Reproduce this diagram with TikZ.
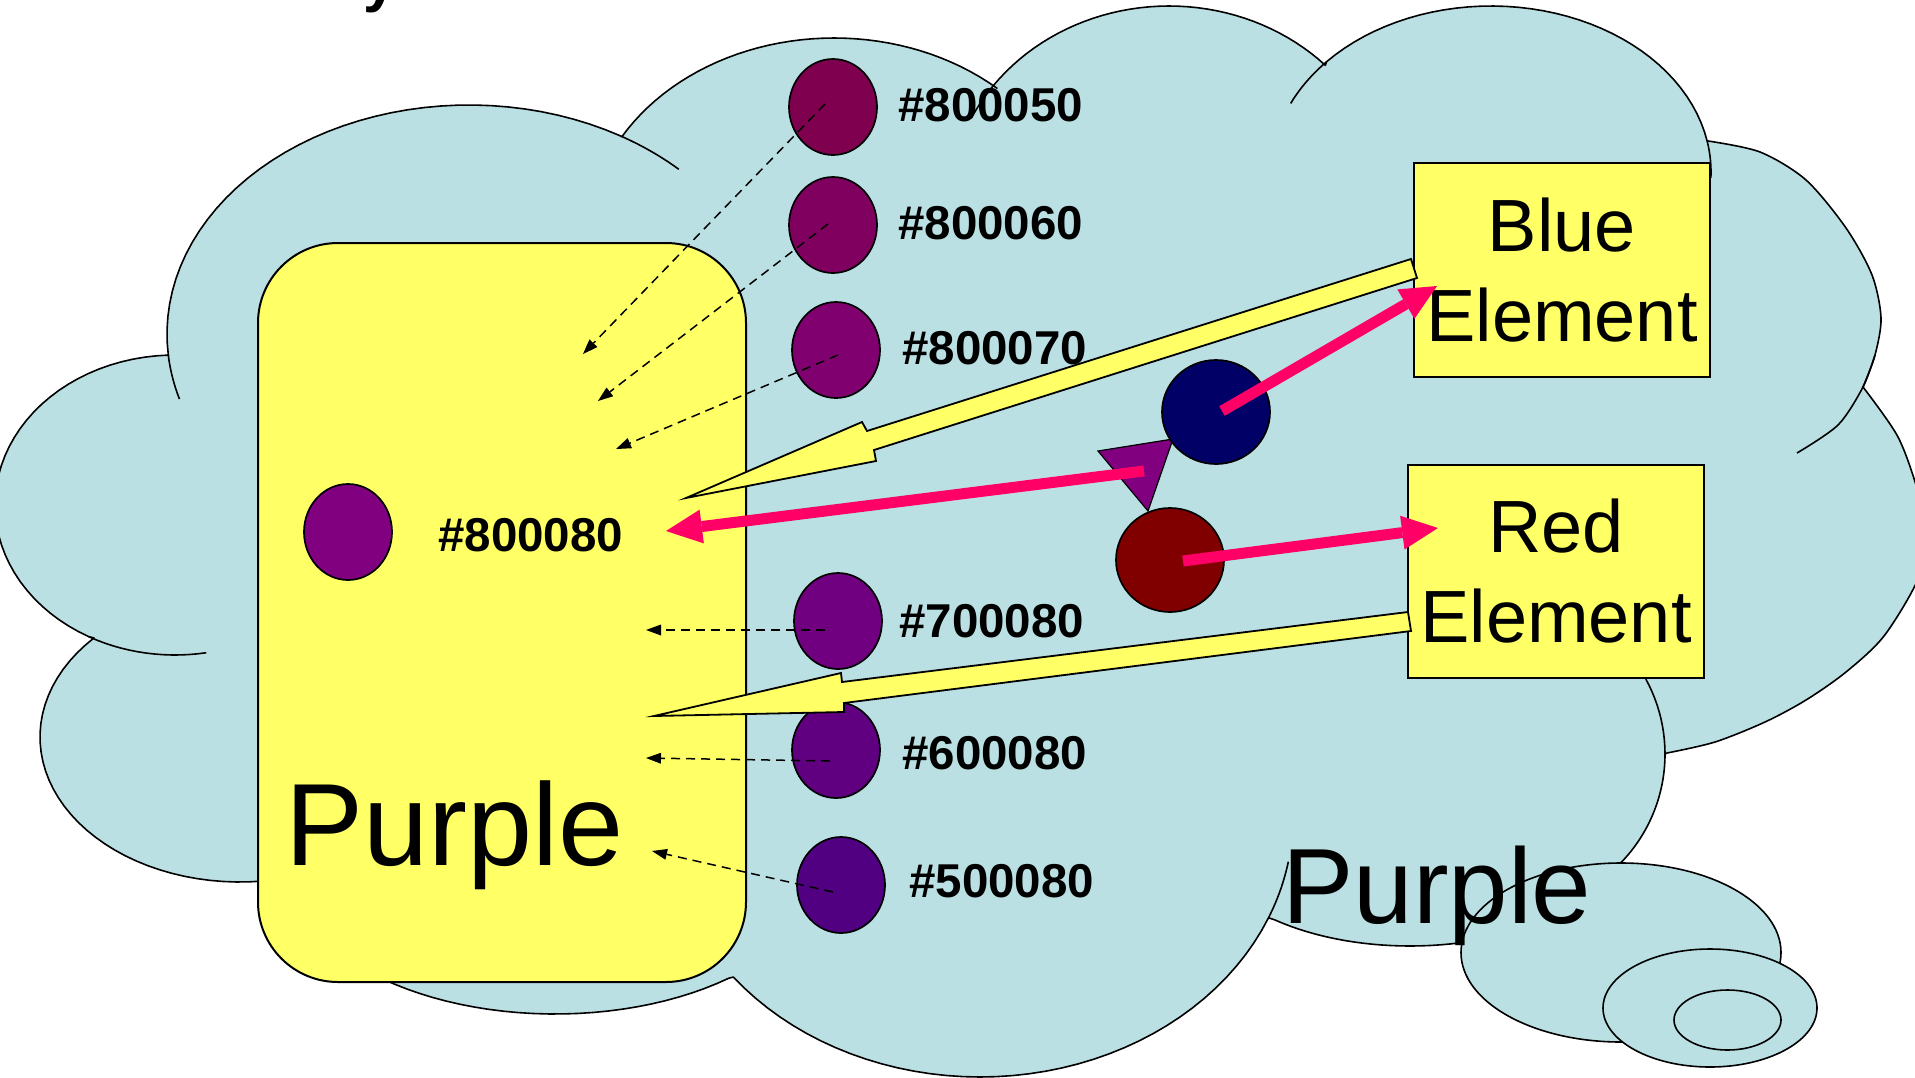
\documentclass[tikz,border=0pt]{standalone}
\usepackage{fontspec}
\setmainfont{Liberation Sans}
\usetikzlibrary{arrows.meta,shapes.geometric}
\definecolor{cloudblue}{RGB}{187,224,227}
\definecolor{noteyellow}{RGB}{255,255,102}
\definecolor{hotpink}{RGB}{255,0,102}
\definecolor{navydot}{RGB}{0,0,102}
\definecolor{maroondot}{RGB}{128,0,0}
\definecolor{colAAA}{HTML}{800050}
\definecolor{colBBB}{HTML}{800060}
\definecolor{colCCC}{HTML}{800070}
\definecolor{colMMM}{HTML}{800080}
\definecolor{colDDD}{HTML}{700080}
\definecolor{colEEE}{HTML}{600080}
\definecolor{colFFF}{HTML}{500080}
\begin{document}
\begin{tikzpicture}[x=1pt,y=-1pt,
  cloudline/.style={draw=black,line width=1.6pt,line join=round},
  bubble/.style={ellipse,draw=black,line width=1.6pt,fill=cloudblue,inner sep=0pt},
  hexdot/.style={ellipse,draw=black,line width=1.7pt,inner sep=0pt,minimum width=88pt,minimum height=96pt},
  hexlabel/.style={anchor=base west,inner sep=0pt,font=\fontsize{47.5}{57}\selectfont\bfseries},
  elembox/.style={draw=black,line width=2.4pt,fill=noteyellow,inner sep=0pt,align=center,font=\fontsize{74}{90}\selectfont,minimum width=296pt},
  yarrow/.style={draw=black,line width=1.8pt,fill=noteyellow,line join=miter},
  pinkarrow/.style={draw=hotpink,line width=11pt,-{Triangle[length=36pt,width=34pt,line width=0pt]}},
  dasharrow/.style={draw=black,line width=1.5pt,dash pattern=on 9pt off 6pt,-{Triangle[length=15pt,width=11pt,line width=0pt]}},
  bigword/.style={anchor=base west,inner sep=0pt}]
\useasboundingbox (0,0) rectangle (1915,1077);
\fill[white] (0,0) rectangle (1915,1077);
\clip (0,0) rectangle (1915,1077);

% cut-off title fragment
\node[anchor=base west,inner sep=0pt,font=\fontsize{60}{72}\selectfont\bfseries] (titlefrag) at (363,0) {y};

% cloud
\filldraw[cloudline,fill=cloudblue,samples=40]
  plot[domain=174.7:300] ({469+302*cos(\x)},{334+229*sin(\x)})
  -- plot[domain=210.4:311.5] ({834+246*cos(\x)},{238+200*sin(\x)})
  -- plot[domain=217:315.3] ({1169+220*cos(\x)},{206+200*sin(\x)})
  -- plot[domain=221.6:349.3] ({1491+220*cos(\x)},{172+166*sin(\x)})
  -- plot[smooth] coordinates {(1708,141) (1760,152) (1806,180) (1846,228) (1872,275) (1881,318) (1875,355) (1863,387)}
  -- plot[smooth] coordinates {(1863,387) (1898,437) (1918,492) (1925,535) (1918,579) (1884,636) (1846,672) (1806,700) (1765,722) (1715,742) (1667,753)}
  -- plot[domain=0:55] ({1509+156*cos(\x)},{754+156*sin(\x)})
  -- plot[domain=24.9:130.2] ({1410+209*cos(\x)},{836+110*sin(\x)})
  -- plot[domain=22.8:142] ({980+313*cos(\x)},{817+260*sin(\x)})
  -- plot[domain=49.6:175] ({555+268*cos(\x)},{864+150*sin(\x)})
  -- plot[domain=76:223.1] ({240+200*cos(\x)},{737+145*sin(\x)})
  -- plot[domain=118.6:268] ({175+180*cos(\x)},{505+150*sin(\x)})
  -- cycle;
% inner arcs of the cloud
\draw[cloudline,samples=12] plot[domain=163.5:174.7] ({469+302*cos(\x)},{334+229*sin(\x)});
\draw[cloudline,samples=12] plot[domain=300:314] ({469+302*cos(\x)},{334+229*sin(\x)});
\draw[cloudline,samples=15] plot[domain=80:118.6] ({175+180*cos(\x)},{505+150*sin(\x)});
\draw[cloudline,samples=12] plot[domain=206:217] ({1169+220*cos(\x)},{206+200*sin(\x)});
\draw[cloudline,samples=12] plot[domain=204.4:221.6] ({1491+220*cos(\x)},{172+166*sin(\x)});
\draw[cloudline,samples=12] plot[domain=349.3:362] ({1491+220*cos(\x)},{172+166*sin(\x)});
\draw[cloudline] plot[smooth] coordinates {(1875,355) (1863,387) (1838,425) (1797,453)};
\draw[cloudline,samples=12] plot[domain=-28.7:0] ({1509+156*cos(\x)},{754+156*sin(\x)});
\draw[cloudline,samples=12] plot[domain=9.9:22.8] ({980+313*cos(\x)},{817+260*sin(\x)});

% thought bubbles
\node[bubble,minimum width=320pt,minimum height=179pt] (bubA) at (1621,952.5) {};
\node[bubble,minimum width=214pt,minimum height=118pt] (bubB) at (1710,1008) {};
\node[bubble,minimum width=107pt,minimum height=60pt] (bubC) at (1727.5,1020) {};

% purple card
\node[draw=black,line width=2pt,fill=noteyellow,rounded corners=80pt,minimum width=488pt,minimum height=739pt,inner sep=0pt] (card) at (502,612.5) {};
\node[hexdot,fill=colMMM] (dotM) at (348,532) {};
\node[hexlabel] (labM) at (438,551) {\#800080};
\node[bigword,font=\fontsize{117}{140}\selectfont] (wordA) at (285,865) {Purple};
\node[bigword,font=\fontsize{107}{128}\selectfont] (wordB) at (1282,923) {Purple};

% colour column
\node[hexdot,fill=colAAA] (dotA) at (833,107) {};
\node[hexlabel] (labA) at (898,121) {\#800050};
\node[hexdot,fill=colBBB] (dotB) at (833,225) {};
\node[hexlabel] (labB) at (898,239) {\#800060};
\node[hexdot,fill=colCCC] (dotC) at (836,350) {};
\node[hexlabel] (labC) at (902,364) {\#800070};
\node[hexdot,fill=colDDD] (dotD) at (838,621) {};
\node[hexlabel] (labD) at (899,637) {\#700080};
\node[hexdot,fill=colEEE] (dotE) at (836,750) {};
\node[hexlabel] (labE) at (902,769) {\#600080};
\node[hexdot,fill=colFFF] (dotF) at (841,885) {};
\node[hexlabel] (labF) at (909,897) {\#500080};

% dashed arrows
\coordinate (dAs) at (825,104);  \coordinate (dAe) at (583,354);
\coordinate (dBs) at (828,224);  \coordinate (dBe) at (598,401);
\coordinate (dCs) at (838,355);  \coordinate (dCe) at (616,449);
\coordinate (dDs) at (825,630);  \coordinate (dDe) at (646,630);
\coordinate (dEs) at (830,761);  \coordinate (dEe) at (646,758);
\coordinate (dFs) at (833,892);  \coordinate (dFe) at (652,851);
\draw[dasharrow] (dAs) -- (dAe);
\draw[dasharrow] (dBs) -- (dBe);
\draw[dasharrow] (dCs) -- (dCe);
\draw[dasharrow] (dDs) -- (dDe);
\draw[dasharrow] (dEs) -- (dEe);
\draw[dasharrow] (dFs) -- (dFe);

% element boxes
\node[elembox,minimum height=214pt] (blueel) at (1562,270) {Blue\\Element};
\node[elembox,minimum height=213pt] (redel) at (1556,571.5) {Red\\Element};

% yellow block arrows
\coordinate (yaTip) at (686,498);
\coordinate (ybTip) at (654,716);
\filldraw[yarrow] (yaTip) -- (862,422) -- (867,431) -- (1411,259) -- (1417,278) -- (874,450) -- (876,461) -- cycle;
\filldraw[yarrow] (ybTip) -- (841,673) -- (842,682) -- (1408,612) -- (1411,631) -- (844,703) -- (844,712) -- cycle;

% triangle and dots
\filldraw[fill=colMMM,draw=black,line width=1.2pt,line join=miter] (1098,451) -- (1173,439) -- (1148,511) -- cycle;
\node[ellipse,draw=black,line width=1.7pt,fill=navydot,minimum width=108pt,minimum height=104pt,inner sep=0pt] (bluedot) at (1216,412) {};
\node[ellipse,draw=black,line width=1.7pt,fill=maroondot,minimum width=108pt,minimum height=104pt,inner sep=0pt] (reddot) at (1170,560) {};

% pink arrows
\coordinate (pkAend) at (1437,286);
\coordinate (pkBstart) at (1144,471);
\coordinate (pkBend) at (666,531);
\coordinate (pkCend) at (1438,528);
\draw[pinkarrow] ([shift={(6,-1)}]bluedot.center) -- (pkAend);
\draw[pinkarrow] (pkBstart) -- (pkBend);
\draw[pinkarrow] ([shift={(13,1)}]reddot.center) -- (pkCend);
\end{tikzpicture}
\end{document}
